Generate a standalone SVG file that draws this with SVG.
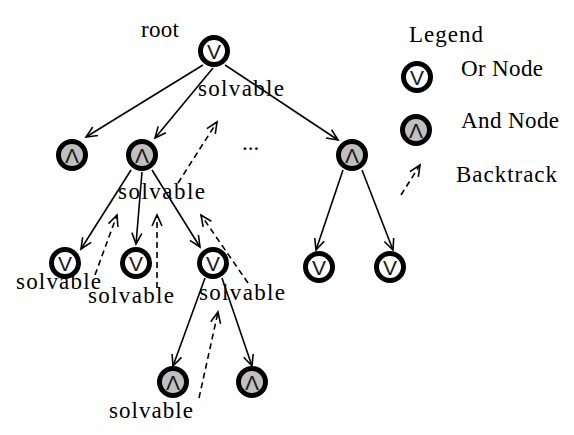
<svg xmlns="http://www.w3.org/2000/svg" width="574" height="435" viewBox="0 0 574 435">
<defs>
<marker id="arr" markerUnits="userSpaceOnUse" markerWidth="16" markerHeight="16" refX="12" refY="6" orient="auto" viewBox="0 0 16 12">
<path d="M1,1 L12,6 L1,11" fill="none" stroke="#000" stroke-width="1.6"/>
</marker>
</defs>
<style>
.or circle{fill:#fff;stroke:#000;stroke-width:5}
.and circle{fill:#c0c0c0;stroke:#000;stroke-width:5}
.sym{font-family:"Liberation Sans",Arial,sans-serif;font-size:21px;fill:#1a1a1a;text-anchor:middle}
.lbl{font-family:"Liberation Serif","Times New Roman",serif;font-size:23px;fill:#000}
.e{stroke:#000;stroke-width:1.6;fill:none;marker-end:url(#arr)}
.b{stroke:#000;stroke-width:1.6;fill:none;stroke-dasharray:6 4;marker-end:url(#arr)}
</style>
<rect width="574" height="435" fill="#fff"/>
<g id="connectors">
<line class="e" x1="203" y1="65" x2="86" y2="137"/>
<line class="e" x1="213" y1="68" x2="155" y2="138"/>
<line class="e" x1="225" y1="65" x2="338" y2="140"/>
<line class="e" x1="131" y1="170" x2="81" y2="249"/>
<line class="e" x1="142" y1="172" x2="136" y2="244"/>
<line class="e" x1="152" y1="170" x2="200" y2="247"/>
<line class="e" x1="205" y1="278" x2="173" y2="366"/>
<line class="e" x1="222" y1="278" x2="252" y2="366"/>
<line class="e" x1="343" y1="170" x2="316" y2="250"/>
<line class="e" x1="362" y1="170" x2="393" y2="250"/>
<line class="b" x1="178" y1="183" x2="217" y2="122"/>
<line class="b" x1="95" y1="275" x2="117" y2="215"/>
<line class="b" x1="157" y1="288" x2="157" y2="215"/>
<line class="b" x1="248" y1="283" x2="201" y2="215"/>
<line class="b" x1="199" y1="398" x2="218" y2="312"/>
<line class="b" x1="401" y1="195" x2="420" y2="165"/>
</g>
<g id="root" class="or"><circle cx="214" cy="51" r="13.5"/><text class="sym" x="214" y="58.5">V</text></g>
<g id="and1" class="and"><circle cx="72" cy="155" r="13.5"/><text class="sym" x="72" y="162.5">Λ</text></g>
<g id="and2" class="and"><circle cx="142" cy="155" r="13.5"/><text class="sym" x="142" y="162.5">Λ</text></g>
<g id="and3" class="and"><circle cx="352" cy="155" r="13.5"/><text class="sym" x="352" y="162.5">Λ</text></g>
<g id="or1" class="or"><circle cx="65" cy="263" r="13.5"/><text class="sym" x="65" y="270.5">V</text></g>
<g id="or2" class="or"><circle cx="136" cy="263" r="13.5"/><text class="sym" x="136" y="270.5">V</text></g>
<g id="or3" class="or"><circle cx="213" cy="263" r="13.5"/><text class="sym" x="213" y="270.5">V</text></g>
<g id="or4" class="or"><circle cx="319" cy="267" r="13.5"/><text class="sym" x="319" y="274.5">V</text></g>
<g id="or5" class="or"><circle cx="390" cy="267" r="13.5"/><text class="sym" x="390" y="274.5">V</text></g>
<g id="and4" class="and"><circle cx="173" cy="382" r="13.5"/><text class="sym" x="173" y="389.5">Λ</text></g>
<g id="and5" class="and"><circle cx="252" cy="382" r="13.5"/><text class="sym" x="252" y="389.5">Λ</text></g>
<g id="legend-or" class="or"><circle cx="417" cy="77" r="13.5"/><text class="sym" x="417" y="84.5">V</text></g>
<g id="legend-and" class="and"><circle cx="416" cy="130" r="13.5"/><text class="sym" x="416" y="137.5">Λ</text></g>
<g id="labels">
<text class="lbl" x="141" y="37" textLength="38">root</text>
<text class="lbl" x="198" y="96" textLength="86">solvable</text>
<text class="lbl" x="118" y="199" textLength="87">solvable</text>
<text class="lbl" x="242" y="150">...</text>
<text class="lbl" x="16" y="289" textLength="85">solvable</text>
<text class="lbl" x="88" y="303" textLength="86">solvable</text>
<text class="lbl" x="199" y="300" textLength="86">solvable</text>
<text class="lbl" x="109" y="418" textLength="84">solvable</text>
<text class="lbl" x="409" y="42" textLength="74">Legend</text>
<text class="lbl" x="461" y="76" textLength="82">Or Node</text>
<text class="lbl" x="461" y="128" textLength="98">And Node</text>
<text class="lbl" x="456" y="182" textLength="101">Backtrack</text>
</g>
</svg>
